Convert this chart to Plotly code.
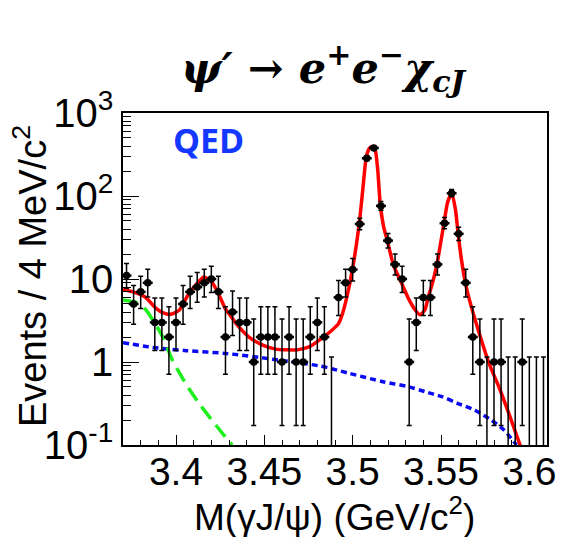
import numpy as np
import plotly.graph_objects as go

# ---- histogram: events per 4 MeV bin of M(gamma J/psi) ----
BIN_LO = 3.37
BIN_W = 0.004
counts = [11, 5, 7, 9, 3, 3, 2, 3, 5, 7,
          8, 9, 10, 7, 2, 4, 3, 3, 1, 2,
          2, 2, 1, 2, 1, 1, 2, 3, 2, 0,
          6, 9, 13, 46, 285, 380, 76, 29, 15, 10,
          1, 3, 6, 6, 15, 47, 108, 35, 9, 2,
          1, 0, 1, 1, 0, 0, 1, 0, 0, 0]
ZERO_BIN_UPPER = 1.148  # displayed upper error for empty bins

# ---- fit curves (mass, events) ----
total_x = [3.3700, 3.3756, 3.3823, 3.3889, 3.3928, 3.3967, 3.4018, 3.4073, 3.4129, 3.4157,
           3.4201, 3.4240, 3.4279, 3.4313, 3.4352, 3.4413, 3.4491, 3.4564, 3.4630, 3.4686,
           3.4753, 3.4825, 3.4881, 3.4920, 3.4942, 3.4965, 3.4998, 3.5037, 3.5059, 3.5076,
           3.5093, 3.5109, 3.5126, 3.5142, 3.5156, 3.5176, 3.5198, 3.5231, 3.5276, 3.5316,
           3.5355, 3.5382, 3.5410, 3.5427, 3.5449, 3.5477, 3.5516, 3.5538, 3.5561, 3.5582,
           3.5597, 3.5616, 3.5638, 3.5661, 3.5717, 3.5772, 3.5828, 3.5884, 3.5951]
total_y = [7.5, 7.0, 6.1, 4.4, 3.9, 3.75, 4.2, 6.7, 9.3, 10.6,
           9.3, 6.7, 4.4, 3.5, 2.7, 2.0, 1.6, 1.43, 1.40, 1.40,
           1.52, 1.93, 2.4, 2.9, 3.8, 5.8, 12.8, 46, 130, 285,
           370, 395, 370, 205, 80, 42, 28, 14.7, 9.0, 5.8,
           4.2, 3.7, 4.3, 6.0, 8.5, 15, 46, 85, 108, 68,
           35, 17, 9, 5.6, 2.2, 0.96, 0.5, 0.24, 0.095]

green_x = [3.3700, 3.3776, 3.3823, 3.3869, 3.3925, 3.3980, 3.4055, 3.4129, 3.4203, 3.4278, 3.4318]
green_y = [5.6, 5.2, 4.4, 3.2, 2.0, 1.05, 0.55, 0.32, 0.20, 0.126, 0.10]

blue_x = [3.3700, 3.3867, 3.4057, 3.4279, 3.4547, 3.4814, 3.4981, 3.5171, 3.5316,
          3.5410, 3.5505, 3.5594, 3.5689, 3.5784, 3.5856, 3.5912, 3.5928]
blue_y = [1.71, 1.50, 1.37, 1.27, 1.08, 0.895, 0.73, 0.579, 0.504,
          0.439, 0.382, 0.318, 0.264, 0.20, 0.152, 0.11, 0.10]

# ---- axis labels ----
x_tickvals = [3.4, 3.45, 3.5, 3.55, 3.6]
x_ticktext = ["3.4", "3.45", "3.5", "3.55", "3.6"]
y_tickvals = [0.1, 1, 10, 100, 1000]
y_ticktext = ["10<sup>-1</sup>", "1", "10", "10<sup>2</sup>", "10<sup>3</sup>"]

# ---- derived quantities ----
n = np.array(counts, dtype=float)
centers = BIN_LO + BIN_W * (np.arange(len(counts)) + 0.5)
filled = n > 0
nf = n[filled]
# 68% Poisson intervals (Wilson-Hilferty form)
lower = nf * (1 - 1 / (9 * nf) - 1 / (3 * np.sqrt(nf))) ** 3
upper = (nf + 1) * (1 - 1 / (9 * (nf + 1)) + 1 / (3 * np.sqrt(nf + 1))) ** 3

FONT = "Liberation Sans"
W, H = 568, 537
L, R, T, B = 123, 16, 113, 92

fig = go.Figure()

fig.add_trace(go.Scatter(
    x=blue_x, y=blue_y, mode="lines",
    line=dict(color="#0a0af5", width=3.5, dash="6px,4px", shape="spline", smoothing=0.8),
    hoverinfo="skip"))
fig.add_trace(go.Scatter(
    x=green_x, y=green_y, mode="lines",
    line=dict(color="#1ef01e", width=3.5, dash="15px,8px", shape="spline", smoothing=0.8),
    hoverinfo="skip"))
fig.add_trace(go.Scatter(
    x=total_x, y=total_y, mode="lines",
    line=dict(color="#ff0000", width=3.5, shape="spline", smoothing=0.6), hoverinfo="skip"))

# empty bins: error bar only
zc = centers[~filled]
fig.add_trace(go.Scatter(
    x=zc, y=[ZERO_BIN_UPPER] * len(zc), mode="markers",
    marker=dict(size=1, color="rgba(0,0,0,0)"),
    error_y=dict(type="data", symmetric=False, array=[0] * len(zc),
                 arrayminus=[ZERO_BIN_UPPER - 0.01] * len(zc),
                 color="black", thickness=1.5, width=2.5),
    hoverinfo="skip"))

# filled bins
fig.add_trace(go.Scatter(
    x=centers[filled], y=nf, mode="markers",
    marker=dict(size=7.5, color="black", symbol="circle"),
    error_y=dict(type="data", symmetric=False, array=upper - nf, arrayminus=nf - lower,
                 color="black", thickness=1.5, width=2.5),
    error_x=dict(type="constant", value=0.0028, color="black", thickness=2.5, width=0),
    hoverinfo="skip"))

y_minor = [k * 10.0 ** d for d in range(-1, 3) for k in range(2, 10)]

fig.update_layout(
    width=W, height=H,
    margin=dict(l=L, r=R, t=T, b=B),
    paper_bgcolor="white", plot_bgcolor="white",
    showlegend=False,
    font=dict(family=FONT, color="black"),
    xaxis=dict(
        range=[3.37, 3.61], showgrid=False, zeroline=False,
        showline=True, linecolor="black", linewidth=1.5, mirror=True,
        ticks="inside", ticklen=10, tickwidth=1.2, tickcolor="black",
        tickmode="array", tickvals=x_tickvals, ticktext=x_ticktext,
        tickfont=dict(size=39, family=FONT), ticklabelstandoff=-9,
        minor=dict(ticks="inside", ticklen=5, tickwidth=1.2, tickcolor="black",
                   tickmode="linear", tick0=3.37, dtick=0.01),
    ),
    yaxis=dict(
        type="log", range=[-1, 3], showgrid=False, zeroline=False,
        showline=True, linecolor="black", linewidth=1.5, mirror=True,
        ticks="inside", ticklen=16, tickwidth=1.2, tickcolor="black",
        tickmode="array", tickvals=y_tickvals, ticktext=y_ticktext,
        tickfont=dict(size=40, family=FONT),
        minor=dict(ticks="inside", ticklen=8, tickwidth=1.2, tickcolor="black",
                   tickmode="array", tickvals=y_minor),
    ),
)

pw, ph = W - L - R, H - T - B


def page_xy(px, py):
    """Convert page pixel position to paper coordinates."""
    return (px - L) / pw, (H - py - B) / ph


texts = [
    ("<b><i>ψ′ → e<sup>+</sup>e<sup>−</sup>χ<sub>cJ</sub></i></b>", (326, 68), 0,
     dict(family="DejaVu Serif", size=43, color="black")),
    ("<b>QED</b>", (210, 140), 0, dict(family="Open Sans", size=34, color="#1438ff")),
    ("M(γJ/ψ) (GeV/c<sup>2</sup>)", (337, 514), 0, dict(family=FONT, size=37)),
    ("Events / 4 MeV/c<sup>2</sup>", (29, 276), -90, dict(family=FONT, size=38)),
]
for text, (px, py), ang, fnt in texts:
    ax, ay = page_xy(px, py)
    fig.add_annotation(text=text, x=ax, y=ay, xref="paper", yref="paper",
                       xanchor="center", yanchor="middle", textangle=ang,
                       showarrow=False, font=fnt)

fig.write_html("out.html")
